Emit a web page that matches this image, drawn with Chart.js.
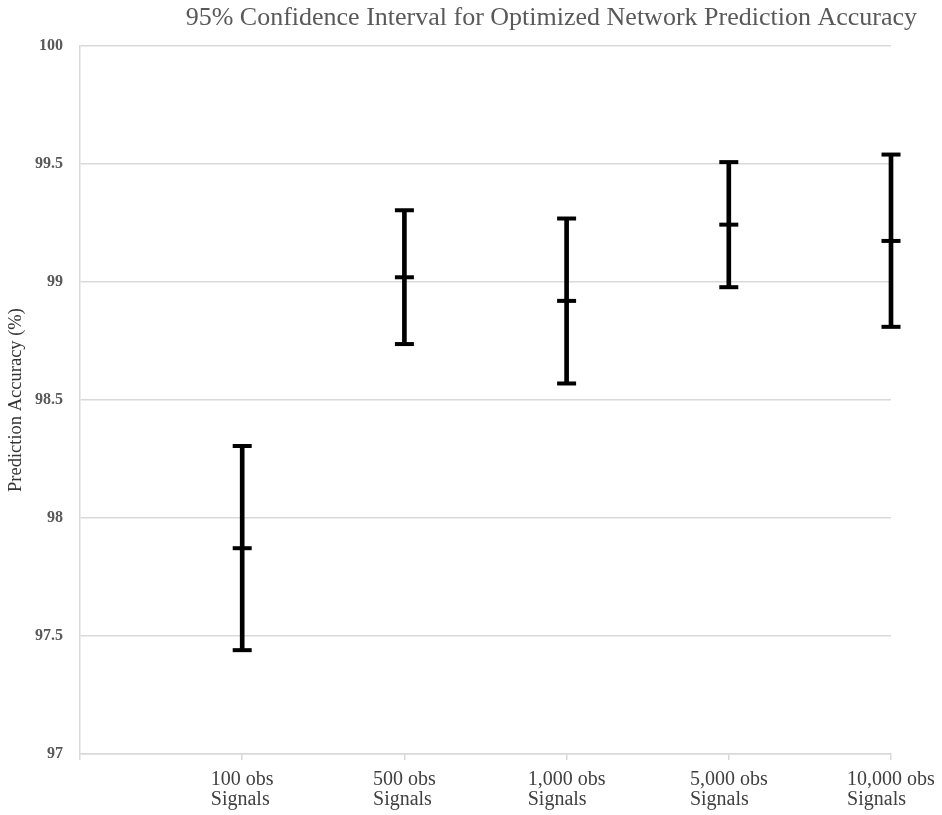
<!DOCTYPE html>
<html><head><meta charset="utf-8">
<script src="https://cdn.jsdelivr.net/npm/chart.js@4.4.0/dist/chart.umd.min.js"></script>
<style>html,body{margin:0;padding:0;background:#fff}#wrap{width:942px;height:815px}</style>
</head><body><div id="wrap"><canvas id="c" width="942" height="815"></canvas></div>
<script>
const categories = [['100 obs','Signals'],['500 obs','Signals'],['1,000 obs','Signals'],['5,000 obs','Signals'],['10,000 obs','Signals']];
const lowerBound   = [97.44, 98.737, 98.57, 98.978, 98.81];
const meanAccuracy = [97.872, 99.02, 98.92, 99.243, 99.174];
const upperBound   = [98.305, 99.304, 99.269, 99.508, 99.54];
const yTicks = [97, 97.5, 98, 98.5, 99, 99.5, 100];
const titleText = '95% Confidence Interval for Optimized Network Prediction Accuracy';
const yTitle = 'Prediction Accuracy (%)';

const FAMILY = "'Liberation Serif', 'Times New Roman', serif";
const labels = [''].concat(categories);
const ranges = [null].concat(lowerBound.map((l, i) => [l, upperBound[i]]));
const pad = arr => [null].concat(arr);

function capSet(values) {
  return {
    type: 'line', data: pad(values), showLine: false, clip: false,
    pointStyle: 'line', pointRadius: 9.5, pointHoverRadius: 9.5,
    pointBorderWidth: 4, pointHoverBorderWidth: 4,
    pointBorderColor: '#000', pointBackgroundColor: '#000', order: 1
  };
}

// Multi-line x labels: left-align lines inside a block centred on the tick
const leftAlignLines = {
  id: 'leftAlignLines',
  beforeDraw(chart) {
    const scale = chart.scales.x;
    const items = scale.getLabelItems(chart.chartArea);
    const ctx = chart.ctx;
    items.forEach(item => {
      if (item._aligned) return;
      const lines = Array.isArray(item.label) ? item.label : [item.label];
      ctx.save();
      ctx.font = item.font.string;
      const w = Math.max(...lines.map(l => ctx.measureText(String(l)).width));
      ctx.restore();
      item.options.textAlign = 'left';
      item.options.translation[0] -= w / 2;
      item._aligned = true;
    });
  }
};

new Chart(document.getElementById('c'), {
  type: 'bar',
  data: {
    labels: labels,
    datasets: [
      { type: 'bar', data: ranges, backgroundColor: '#000', borderWidth: 0, barThickness: 4, clip: false, order: 2 },
      capSet(upperBound),
      capSet(meanAccuracy),
      capSet(lowerBound)
    ]
  },
  plugins: [leftAlignLines],
  options: {
    responsive: false,
    devicePixelRatio: 1,
    animation: false,
    events: [],
    layout: { padding: { left: 0, right: 25, top: 0, bottom: 0 } },
    plugins: {
      legend: { display: false },
      tooltip: { enabled: false },
      title: {
        display: true, text: titleText, align: 'end', color: '#595959',
        font: { family: FAMILY, size: 26, weight: 'normal', lineHeight: 1.2 },
        padding: { top: 3, bottom: 11.8 }
      }
    },
    scales: {
      x: {
        type: 'category', offset: false,
        grid: { offset: false, drawOnChartArea: false, drawTicks: true, tickLength: 6, color: '#d9d9d9', lineWidth: 1.5 },
        border: { color: '#d9d9d9', width: 1.5 },
        ticks: { font: { family: FAMILY, size: 20, lineHeight: 0.975 }, color: '#404040', padding: 10, maxRotation: 0, minRotation: 0, autoSkip: false },
        afterFit: s => { s.height = 61; s.paddingRight = 51; s.paddingLeft = 0; }
      },
      y: {
        min: 97, max: 100,
        afterBuildTicks: s => { s.ticks = yTicks.map(v => ({ value: v })); },
        grid: { drawTicks: false, color: '#d9d9d9', lineWidth: 1.5 },
        border: { color: '#d9d9d9', width: 1.5 },
        ticks: { font: { family: FAMILY, size: 16, weight: 'bold' }, color: '#595959', padding: 17, callback: v => String(v) },
        title: { display: true, text: yTitle, color: '#333333', font: { family: FAMILY, size: 18.5, weight: 'normal', lineHeight: 1.2 }, padding: { top: 5, bottom: 0 } },
        afterFit: s => { s.width = 80; }
      }
    }
  }
});
</script></body></html>
